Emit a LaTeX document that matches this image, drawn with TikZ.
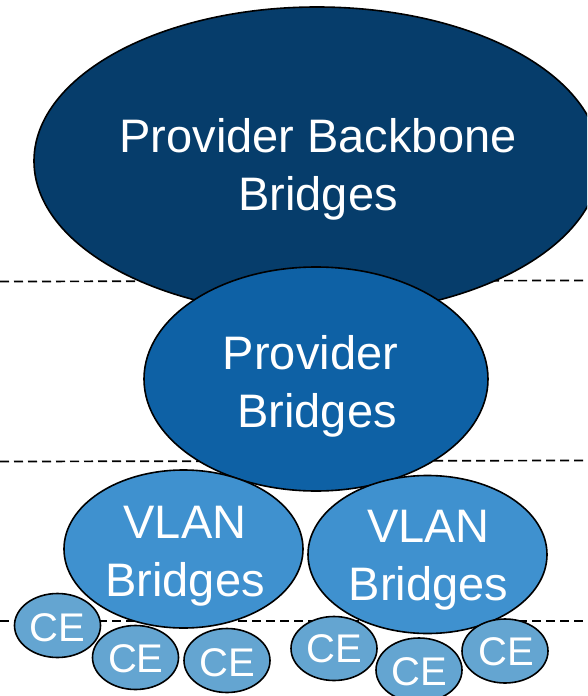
\documentclass[tikz,border=0pt]{standalone}
\usepackage{fontspec}
\setmainfont{Liberation Sans}
\usetikzlibrary{shapes.geometric}

\definecolor{pbbblue}{HTML}{063D6B}
\definecolor{pbblue}{HTML}{0E61A5}
\definecolor{vlanblue}{HTML}{3F91CF}
\definecolor{ceblue}{HTML}{64A5D1}

\tikzset{
  blob/.style={ellipse, draw=black, line width=1.6pt, inner sep=0pt, outer sep=0pt},
  bigblob/.style={blob, fill=pbbblue, minimum width=566pt, minimum height=308pt},
  pbblob/.style={blob, fill=pbblue, minimum width=344pt, minimum height=224pt},
  vlanblob/.style={blob, fill=vlanblue, minimum width=239pt, minimum height=158pt},
  ceblob/.style={blob, fill=ceblue, minimum width=86pt, minimum height=64pt},
  bigtext/.style={text=white, align=center, inner sep=0pt, font=\fontsize{47}{58}\selectfont},
  cetext/.style={text=white, inner sep=0pt, font=\fontsize{40}{48}\selectfont},
  tierline/.style={line width=1.7pt, dash pattern=on 9pt off 5pt}
}

\begin{document}
\begin{tikzpicture}[x=1pt, y=-1pt]
  \clip (0,0) rectangle (587,696);
  \fill[white] (0,0) rectangle (587,696);

  % tier separators
  \coordinate (t1a) at (0,281.5);   \coordinate (t1b) at (587,280.5);
  \coordinate (t2a) at (0,461.5);   \coordinate (t2b) at (587,460.5);
  \coordinate (t3a) at (0,621);     \coordinate (t3b) at (587,621);
  \draw[tierline] (t1a) -- (t1b);
  \draw[tierline] (t2a) -- (t2b);
  \draw[tierline] (t3a) -- (t3b);

  % backbone
  \node[bigblob] (pbb) at (317,161) {};
  \node[bigtext] (pbbtext) at (318,169) {Provider Backbone\\Bridges};

  % provider bridges
  \node[pbblob] (pb) at (316,379) {};
  \node[bigtext] (pbtext) at (317,386.5) {Provider\rule{13pt}{0pt}\\Bridges};

  % VLAN bridges
  \node[vlanblob] (vlanl) at (183.5,549) {};
  \node[bigtext] (vlanltext) at (185,556.5) {VLAN\\Bridges};
  \node[vlanblob] (vlanr) at (427.5,554.5) {};
  \node[bigtext] (vlanrtext) at (428.5,560.5) {VLAN\\Bridges};

  % customer equipment
  \node[ceblob] (ce1) at (57.5,625.5) {};
  \node[cetext] (ce1t) at (57,628) {CE};
  \node[ceblob] (ce2) at (135.5,657.5) {};
  \node[cetext] (ce2t) at (135.8,659) {CE};
  \node[ceblob] (ce3) at (227,660.5) {};
  \node[cetext] (ce3t) at (227.5,662.5) {CE};
  \node[ceblob] (ce4) at (334,648.5) {};
  \node[cetext] (ce4t) at (334,649) {CE};
  \node[ceblob] (ce5) at (419,670) {};
  \node[cetext] (ce5t) at (419.5,671.5) {CE};
  \node[ceblob] (ce6) at (505,651) {};
  \node[cetext] (ce6t) at (506,651.5) {CE};
\end{tikzpicture}
\end{document}
